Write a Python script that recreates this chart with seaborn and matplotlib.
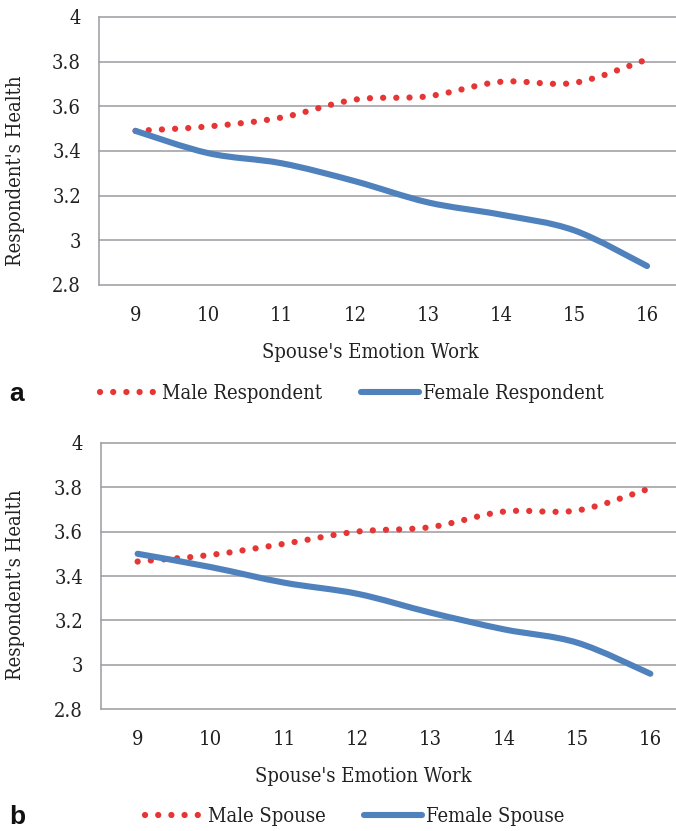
import numpy as np
import pandas as pd
import matplotlib
matplotlib.use("Agg")
import matplotlib.pyplot as plt
import seaborn as sns
from matplotlib.path import Path
from matplotlib.patches import PathPatch
from matplotlib.lines import Line2D

# Predicted respondent health by spouse's emotion work
emotion_work = [9, 10, 11, 12, 13, 14, 15, 16]
male_respondent = [3.49, 3.51, 3.55, 3.63, 3.645, 3.71, 3.705, 3.81]
female_respondent = [3.49, 3.39, 3.345, 3.265, 3.17, 3.115, 3.045, 2.885]
male_spouse = [3.465, 3.495, 3.545, 3.60, 3.62, 3.69, 3.695, 3.795]
female_spouse = [3.50, 3.44, 3.37, 3.32, 3.235, 3.16, 3.10, 2.96]

y_ticks = [2.8, 3.0, 3.2, 3.4, 3.6, 3.8, 4.0]
y_tick_labels = ["2.8", "3", "3.2", "3.4", "3.6", "3.8", "4"]
x_label = "Spouse's Emotion Work"
y_label = "Respondent's Health"

RED = "#E53535"
BLUE = "#4F81BD"
GRID = "#9B9BA0"

sns.set_style("white")
plt.rcParams["font.family"] = ["DejaVu Serif"]
plt.rcParams["font.stretch"] = "condensed"

FS = 14.5
W, H = 676, 831
fig = plt.figure(figsize=(W / 100, H / 100), dpi=100)


def smooth_line(ax, line, style):
    """Replace a polyline with a Catmull-Rom style Bezier curve through the same points."""
    pts = np.column_stack([line.get_xdata(), line.get_ydata()]).astype(float)
    n = len(pts)
    verts = [pts[0]]
    codes = [Path.MOVETO]
    for i in range(n - 1):
        p0 = pts[max(i - 1, 0)]
        p1 = pts[i]
        p2 = pts[i + 1]
        p3 = pts[min(i + 2, n - 1)]
        verts += [p1 + (p2 - p0) / 6.0, p2 - (p3 - p1) / 6.0, p2]
        codes += [Path.CURVE4] * 3
    patch = PathPatch(Path(verts, codes), facecolor="none",
                      edgecolor=line.get_color(), lw=line.get_linewidth(),
                      linestyle=style, capstyle="round", joinstyle="round")
    ax.add_patch(patch)
    line.set_visible(False)


DOT_STYLE = (0, (0.01, 2.1))
DOT_LW = 4.5
SOLID_LW = 4.4


def panel(rect_px, xmax, male, female, labels, ylab_y, xlab_x, xlab_y, legend_center, tag, tag_y):
    left, top, right, bottom = rect_px
    ax = fig.add_axes([left / W, 1 - bottom / H, (right - left) / W, (bottom - top) / H])
    sns.lineplot(x=emotion_work, y=male, ax=ax, color=RED, lw=DOT_LW, sort=False)
    sns.lineplot(x=emotion_work, y=female, ax=ax, color=BLUE, lw=SOLID_LW, sort=False)
    smooth_line(ax, ax.lines[0], DOT_STYLE)
    smooth_line(ax, ax.lines[1], "-")

    ax.set_xlim(8.5, xmax)
    ax.set_ylim(2.8, 4.0)
    ax.set_xticks(emotion_work)
    ax.set_xticklabels([str(v) for v in emotion_work])
    ax.set_yticks(y_ticks)
    ax.set_yticklabels(y_tick_labels)
    ax.tick_params(axis="both", length=0, labelsize=FS, colors="#222222")
    ax.tick_params(axis="x", pad=15)
    ax.tick_params(axis="y", pad=13)
    ax.grid(axis="y", color=GRID, lw=1.1)
    ax.grid(axis="x", visible=False)
    for gl in ax.get_ygridlines():
        gl.set_clip_on(False)
    for side in ("top", "right", "bottom"):
        ax.spines[side].set_visible(False)
    ax.spines["left"].set_color(GRID)
    ax.spines["left"].set_linewidth(1.1)

    ax.set_xlabel(x_label, fontsize=FS, color="#222222")
    ax.set_ylabel(y_label, fontsize=FS, color="#222222")
    ax.xaxis.set_label_coords(xlab_x, xlab_y)
    ax.yaxis.set_label_coords((25 - left) / (right - left), ylab_y)

    handles = [
        Line2D([0], [0], color=RED, lw=DOT_LW, linestyle=DOT_STYLE, dash_capstyle="round"),
        Line2D([0], [0], color=BLUE, lw=SOLID_LW, solid_capstyle="round"),
    ]
    fig.legend(handles, labels, loc="center", ncol=2, frameon=False,
               bbox_to_anchor=(legend_center / W, 1 - tag_y / H),
               fontsize=FS, handlelength=2.9, handletextpad=0.2,
               columnspacing=1.9, labelcolor="#222222")
    fig.text(17 / W, 1 - tag_y / H, tag, fontsize=19, fontweight="bold",
             family="Liberation Sans", stretch="normal",
             ha="center", va="center", color="#111111")
    return ax


panel((99, 17, 676, 285), 16.396, male_respondent, female_respondent,
      ["Male Respondent", "Female Respondent"], 0.425, 0.47, -0.215, 352, "a", 394)
panel((101, 442.7, 676, 709.3), 16.35, male_spouse, female_spouse,
      ["Male Spouse", "Female Spouse"], 0.466, 0.456, -0.215, 355, "b", 817)

fig.savefig("out.png", dpi=100)
